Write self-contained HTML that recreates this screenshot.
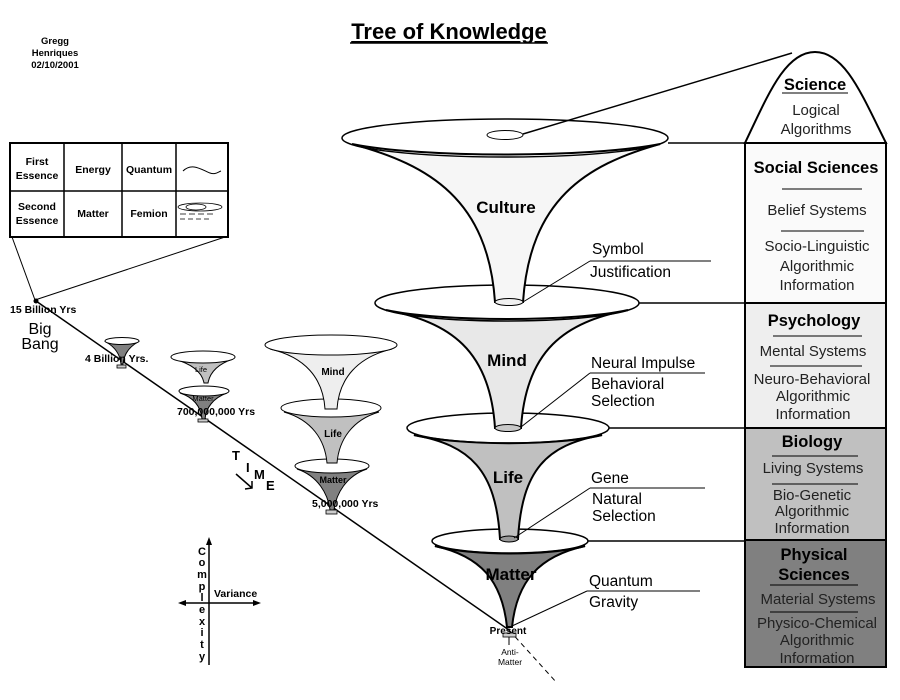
<!DOCTYPE html>
<html><head><meta charset="utf-8"><style>
html,body{margin:0;padding:0;background:#fff;}
svg{display:block;font-family:"Liberation Sans",sans-serif;}
.b{font-weight:bold;}
</style></head><body>
<svg width="900" height="700" viewBox="0 0 900 700" xmlns="http://www.w3.org/2000/svg">
<rect width="900" height="700" fill="#fff"/>
<!-- header -->
<text x="449" y="39" text-anchor="middle" font-size="22" class="b" text-decoration="underline">Tree of Knowledge</text>
<line x1="350" y1="43" x2="548" y2="43" stroke="#000" stroke-width="1.5"/>
<g font-size="9.5" class="b" text-anchor="middle">
<text x="55" y="44">Gregg</text><text x="55" y="56">Henriques</text><text x="55" y="68">02/10/2001</text>
</g>
<!-- table -->
<g stroke="#000" stroke-width="1.5" fill="none">
<rect x="10" y="143" width="218" height="94" fill="#fff" stroke-width="2"/>
<line x1="64" y1="143" x2="64" y2="237"/><line x1="122" y1="143" x2="122" y2="237"/><line x1="176" y1="143" x2="176" y2="237"/>
<line x1="10" y1="191" x2="228" y2="191"/>
<path d="M183,171 C192,162 202,170 210,173 C215,175 218,172 221,171" stroke-width="1"/>
<g stroke-width="0.8"><ellipse cx="200" cy="207" rx="22" ry="4"/><ellipse cx="196" cy="207" rx="10" ry="3"/><path d="M180,214 h6 m3,0 h6 m3,0 h6 m3,0 h6 M180,219 h5 m3,0 h5 m3,0 h5 m3,0 h5" /></g>
<line x1="12" y1="237" x2="35" y2="300" stroke-width="1"/>
<line x1="225" y1="237" x2="35" y2="300" stroke-width="1"/>
</g>
<g font-size="10.5" class="b" text-anchor="middle">
<text x="37" y="165">First</text><text x="37" y="179">Essence</text>
<text x="93" y="173">Energy</text><text x="149" y="173">Quantum</text>
<text x="37" y="210">Second</text><text x="37" y="224">Essence</text>
<text x="93" y="217">Matter</text><text x="149" y="217">Femion</text>
</g>
<!-- timeline -->
<circle cx="36" cy="301" r="2.5"/>
<line x1="36" y1="301" x2="509" y2="630" stroke="#000" stroke-width="1.5"/>
<line x1="509" y1="630" x2="557" y2="683" stroke="#000" stroke-width="1" stroke-dasharray="5,4"/>
<text x="10" y="313" font-size="10.5" class="b">15 Billion Yrs</text>
<text x="40" y="334" font-size="16" text-anchor="middle">Big</text>
<text x="40" y="349" font-size="16" text-anchor="middle">Bang</text>

<!-- tiny funnel -->
<path d="M106,342 C115,347 120,354 121,364 L123,364 C124,354 129,347 138,342 Z" fill="#808080" stroke="#000"/>
<ellipse cx="122" cy="341" rx="17" ry="3.5" fill="#fff" stroke="#000"/>
<rect x="117" y="365" width="9" height="3" fill="#ccc" stroke="#000" stroke-width="0.8"/>
<text x="85" y="362" font-size="10.5" class="b">4 Billion Yrs.</text>

<!-- small funnels -->
<path d="M180,393 C195,398 201,408 202,419 L205,419 C206,408 213,398 227,393 Z" fill="#808080" stroke="#000"/>
<ellipse cx="204" cy="391" rx="25" ry="5" fill="#fff" stroke="#000"/>
<text x="203" y="401" font-size="7.5" text-anchor="middle">Matter</text>
<path d="M174,359 C192,364 202,372 204,383 L208,383 C210,372 218,364 233,359 Z" fill="#c0c0c0" stroke="#000"/>
<ellipse cx="203" cy="357" rx="32" ry="6" fill="#fff" stroke="#000"/>
<text x="201" y="372" font-size="7.5" text-anchor="middle">Life</text>
<rect x="198" y="419" width="10" height="3" fill="#ccc" stroke="#000" stroke-width="0.8"/>
<text x="177" y="415" font-size="10.5" class="b">700,000,000 Yrs</text>

<!-- medium funnels -->
<path d="M297,469 C318,476 328,494 330,510 L334,510 C336,494 346,476 367,469 Z" fill="#808080" stroke="#000"/>
<ellipse cx="332" cy="466" rx="37" ry="7" fill="#fff" stroke="#000"/>
<text x="333" y="483" font-size="9" class="b" text-anchor="middle">Matter</text>
<path d="M284,412 C312,420 325,440 327,463 L337,463 C339,440 352,420 379,412 Z" fill="#c0c0c0" stroke="#000"/>
<ellipse cx="331" cy="408" rx="50" ry="9" fill="#fff" stroke="#000"/>
<text x="333" y="437" font-size="10" class="b" text-anchor="middle">Life</text>
<path d="M270,349 C305,357 323,378 325,409 L337,409 C339,378 358,357 392,349 Z" fill="#eeeeee" stroke="#000"/>
<ellipse cx="331" cy="345" rx="66" ry="10" fill="#fff" stroke="#000"/>
<text x="333" y="375" font-size="10" class="b" text-anchor="middle">Mind</text>
<rect x="326" y="510" width="11" height="4" fill="#ccc" stroke="#000" stroke-width="0.8"/>
<text x="312" y="507" font-size="10.5" class="b">5,000,000 Yrs</text>

<!-- TIME -->
<g font-size="13" class="b"><text x="232" y="460">T</text><text x="246" y="472">I</text><text x="254" y="479">M</text><text x="266" y="490">E</text></g>
<path d="M236,474 L252,488 M245,489 L252,488 L252,481" stroke="#000" stroke-width="1.5" fill="none"/>

<!-- axes -->
<g stroke="#000" stroke-width="1.5">
<line x1="209" y1="540" x2="209" y2="665"/><line x1="181" y1="603" x2="258" y2="603"/>
</g>
<path d="M206,545 L209,537 L212,545 Z M186,600 L178,603 L186,606 Z M253,600 L261,603 L253,606 Z"/>
<text x="214" y="597" font-size="10.5" class="b">Variance</text>
<g font-size="11" class="b" text-anchor="middle">
<text x="202" y="555">C</text><text x="202" y="566">o</text><text x="202" y="578">m</text><text x="202" y="590">p</text><text x="202" y="601">l</text><text x="202" y="613">e</text><text x="202" y="625">x</text><text x="202" y="636">i</text><text x="202" y="648">t</text><text x="202" y="660">y</text>
</g>

<!-- main funnels (bottom up) -->
<!-- Matter -->
<path d="M435,546 C480,556 502,580 507,627 L512,627 C517,580 540,556 585,546 Z" fill="#808080" stroke="#000" stroke-width="2"/>
<ellipse cx="510" cy="541" rx="78" ry="12" fill="#fff" stroke="#000" stroke-width="1.5"/>
<path d="M435,546 C470,556 550,556 585,546" fill="none" stroke="#000" stroke-width="2"/>
<text x="511" y="580" font-size="17" class="b" text-anchor="middle">Matter</text>
<!-- Life -->
<path d="M414,435 C470,445 496,470 500,539 L518,539 C522,470 546,445 602,435 Z" fill="#c0c0c0" stroke="#000" stroke-width="2"/>
<ellipse cx="509" cy="539" rx="9" ry="3" fill="#999" stroke="#000"/>
<ellipse cx="508" cy="428" rx="101" ry="15" fill="#fff" stroke="#000" stroke-width="1.5"/>
<path d="M414,435 C460,446 558,446 602,435" fill="none" stroke="#000" stroke-width="2"/>
<text x="508" y="483" font-size="17" class="b" text-anchor="middle">Life</text>
<!-- Mind -->
<path d="M386,310 C450,322 490,350 495,428 L521,428 C526,350 565,322 628,310 Z" fill="#e8e8e8" stroke="#000" stroke-width="2"/>
<ellipse cx="508" cy="428" rx="13" ry="3.5" fill="#c8c8c8" stroke="#000"/>
<ellipse cx="507" cy="303" rx="132" ry="18" fill="#fff" stroke="#000" stroke-width="1.5"/>
<path d="M386,310 C440,322 575,322 628,310" fill="none" stroke="#000" stroke-width="2"/>
<text x="507" y="366" font-size="17" class="b" text-anchor="middle">Mind</text>
<!-- Culture -->
<path d="M352,144 C430,165 488,200 495,302 L523,302 C530,200 585,165 660,144 Z" fill="#f6f6f6" stroke="#000" stroke-width="2"/>
<ellipse cx="509" cy="302" rx="14" ry="3.5" fill="#f0f0f0" stroke="#000"/>
<ellipse cx="505" cy="138" rx="163" ry="19" fill="#fff" stroke="#000" stroke-width="1.5"/>
<path d="M352,144 C420,158 590,158 660,144" fill="none" stroke="#000" stroke-width="2"/>
<ellipse cx="505" cy="135" rx="18" ry="4.5" fill="#fff" stroke="#000"/>
<line x1="523" y1="134" x2="792" y2="53" stroke="#000" stroke-width="1.5"/>
<text x="506" y="213" font-size="17" class="b" text-anchor="middle">Culture</text>

<rect x="503" y="633" width="13" height="4" fill="#ccc" stroke="#000" stroke-width="0.8"/>
<line x1="509" y1="637" x2="509" y2="645" stroke="#000"/>
<text x="508" y="634" font-size="10" class="b" text-anchor="middle">Present</text>
<text x="510" y="655" font-size="8.5" text-anchor="middle">Anti-</text>
<text x="510" y="665" font-size="8.5" text-anchor="middle">Matter</text>

<!-- right labels -->
<g stroke="#000" stroke-width="1">
<line x1="523" y1="302" x2="590" y2="261"/><line x1="590" y1="261" x2="711" y2="261"/>
<line x1="521" y1="427" x2="590" y2="373"/><line x1="590" y1="373" x2="705" y2="373"/>
<line x1="514" y1="538" x2="590" y2="488"/><line x1="590" y1="488" x2="705" y2="488"/>
<line x1="512" y1="626" x2="587" y2="591"/><line x1="587" y1="591" x2="700" y2="591"/>
<line x1="668" y1="143" x2="745" y2="143" stroke-width="1.5"/><line x1="639" y1="303" x2="745" y2="303" stroke-width="1.5"/>
<line x1="609" y1="428" x2="745" y2="428" stroke-width="1.5"/><line x1="588" y1="541" x2="745" y2="541" stroke-width="1.5"/>
</g>
<g font-size="15.5">
<text x="592" y="254">Symbol</text><text x="590" y="277">Justification</text>
<text x="591" y="368">Neural Impulse</text><text x="591" y="389">Behavioral</text><text x="591" y="406">Selection</text>
<text x="591" y="483">Gene</text><text x="592" y="504">Natural</text><text x="592" y="521">Selection</text>
<text x="589" y="586">Quantum</text><text x="589" y="607">Gravity</text>
</g>

<!-- right column -->
<path d="M745,143 C768,95 785,52 815,52 C845,52 862,95 886,143 Z" fill="#fff" stroke="#000" stroke-width="2"/>
<rect x="745" y="143" width="141" height="160" fill="#fafafa" stroke="#000" stroke-width="2"/>
<rect x="745" y="303" width="141" height="125" fill="#eeeeee" stroke="#000" stroke-width="2"/>
<rect x="745" y="428" width="141" height="112" fill="#c0c0c0" stroke="#000" stroke-width="2"/>
<rect x="745" y="540" width="141" height="127" fill="#808080" stroke="#000" stroke-width="2"/>
<g stroke="#000" stroke-width="1">
<line x1="782" y1="93" x2="848" y2="93"/>
<line x1="782" y1="189" x2="862" y2="189"/><line x1="781" y1="231" x2="864" y2="231"/>
<line x1="773" y1="336" x2="862" y2="336"/><line x1="770" y1="366" x2="862" y2="366"/>
<line x1="772" y1="456" x2="858" y2="456"/><line x1="772" y1="484" x2="858" y2="484"/>
<line x1="770" y1="585" x2="858" y2="585"/><line x1="770" y1="612" x2="858" y2="612"/>
</g>
<g text-anchor="middle" font-size="16.5" class="b">
<text x="815" y="90">Science</text>
<text x="816" y="173">Social Sciences</text>
<text x="814" y="326">Psychology</text>
<text x="812" y="447">Biology</text>
<text x="814" y="560">Physical</text><text x="814" y="580">Sciences</text>
</g>
<g text-anchor="middle" font-size="15" fill="#222">
<text x="816" y="115">Logical</text><text x="816" y="134">Algorithms</text>
<text x="817" y="215">Belief Systems</text>
<text x="817" y="251">Socio-Linguistic</text><text x="817" y="271">Algorithmic</text><text x="817" y="290">Information</text>
<text x="813" y="356">Mental Systems</text>
<text x="812" y="384">Neuro-Behavioral</text><text x="813" y="401">Algorithmic</text><text x="813" y="419">Information</text>
<text x="813" y="473">Living Systems</text>
<text x="812" y="500">Bio-Genetic</text><text x="812" y="516">Algorithmic</text><text x="812" y="533">Information</text>
<text x="818" y="604">Material Systems</text>
<text x="817" y="628">Physico-Chemical</text><text x="817" y="645">Algorithmic</text><text x="817" y="663">Information</text>
</g>
</svg>
</body></html>
